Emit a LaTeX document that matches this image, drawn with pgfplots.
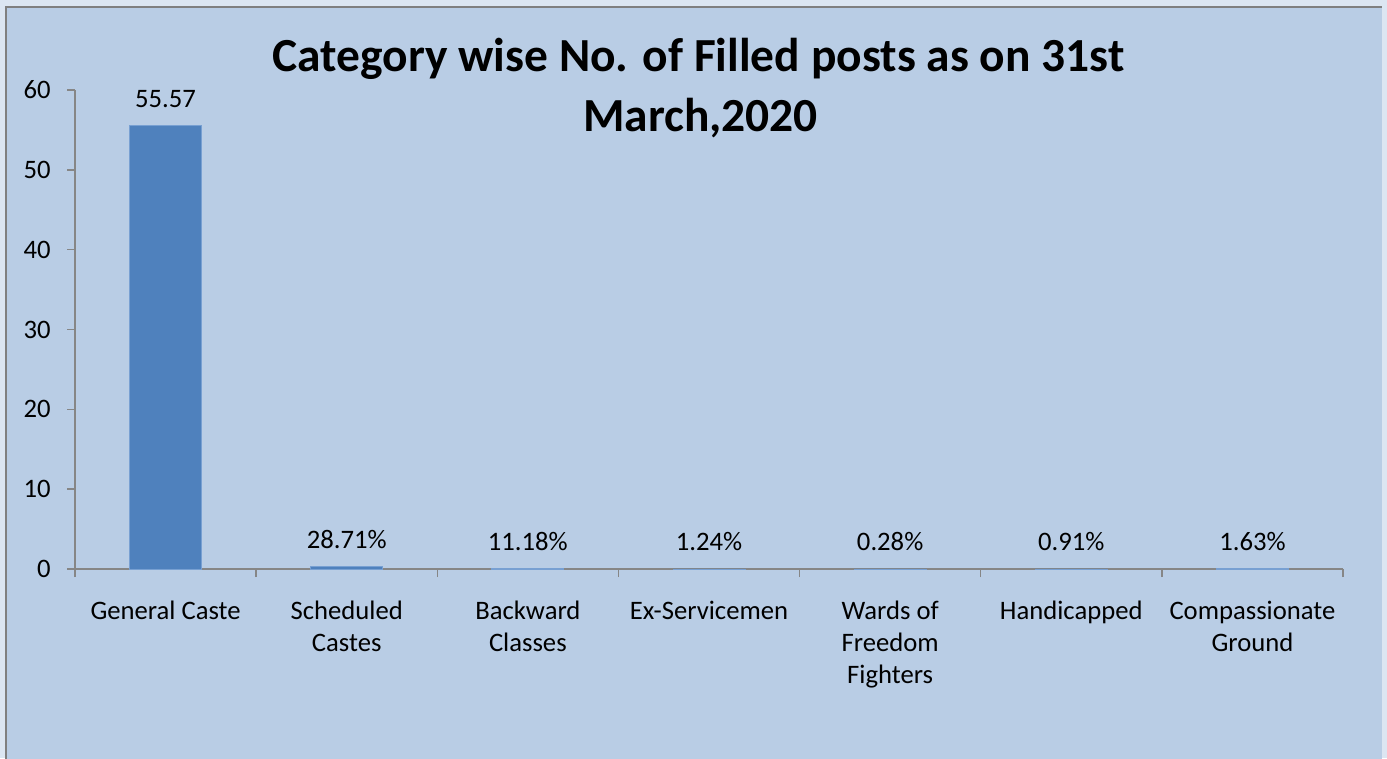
\documentclass[border=0pt]{standalone}
\usepackage{pgfplots}
\pgfplotsset{compat=1.18}
\usepackage{fontspec}
\setmainfont{Carlito}
\definecolor{outerbg}{RGB}{220,230,242}
\definecolor{innerbg}{RGB}{185,205,229}
\definecolor{bordergray}{RGB}{128,128,128}
\definecolor{axisgray}{RGB}{134,134,134}
\definecolor{barblue}{RGB}{79,129,189}
\definecolor{baredge}{RGB}{120,160,210}
\begin{document}
\begin{tikzpicture}[x=1pt,y=1pt]
\useasboundingbox (0,0) rectangle (1040.25,568.5);
\fill[outerbg] (0,0) rectangle (1040.25,568.5);
\fill[innerbg] (4.5,-5) rectangle (1036.5,563.25);
\draw[bordergray,line width=1.6pt] (4.5,-5) -- (4.5,563.25) -- (1036.3,563.25);
\begin{axis}[
  at={(56.25pt,141.75pt)}, anchor=south west,
  scale only axis, width=951pt, height=359.25pt,
  xmin=-0.5, xmax=6.5, ymin=0, ymax=60,
  axis x line*=bottom, axis y line*=left,
  axis line style={axisgray,line width=1.5pt},
  every outer x axis line/.append style={-},
  every outer y axis line/.append style={-},
  xtick={-0.5,0.5,...,6.5},
  xticklabels={},
  extra x ticks={0,1,2,3,4,5,6},
  extra x tick labels={General Caste,{Scheduled\\Castes},{Backward\\Classes},Ex-Servicemen,{Wards of\\Freedom\\Fighters},Handicapped,{Compassionate\\Ground}},
  extra x tick style={major tick length=0pt, tick style={draw=none}},
  ytick={0,10,...,60},
  tick align=outside, major tick length=6pt,
  tick style={axisgray,line width=1.1pt},
  xticklabel style={font=\fontsize{20}{24}\selectfont, align=center, anchor=north, inner sep=0pt, yshift=-24pt},
  yticklabel style={font=\fontsize{20}{24}\selectfont, anchor=east, inner sep=0pt, xshift=-12pt},
  /pgf/number format/assume math mode=true,
  ybar, bar width=54pt,
  nodes near coords,
  point meta=explicit symbolic,
  every node near coord/.append style={font=\fontsize{20}{24}\selectfont, black, anchor=base, inner sep=0pt, yshift=13.5pt},
  clip=false,
]
\addplot[fill=barblue, draw=baredge, line width=0.6pt] coordinates {
  (0,55.57) [55.57]
  (1,0.2871) [28.71\%]
  (2,0.1118) [11.18\%]
  (3,0.0124) [1.24\%]
  (4,0.0028) [0.28\%]
  (5,0.0091) [0.91\%]
  (6,0.0163) [1.63\%]
};
\end{axis}
\node[font=\bfseries\fontsize{35.6}{45}\selectfont, anchor=base, inner sep=0pt] at (523.9,514.5) {Category wise No. of Filled posts as on 31st};
\node[font=\bfseries\fontsize{35.6}{45}\selectfont, anchor=base, inner sep=0pt] at (525.4,469.5) {March,2020};
\end{tikzpicture}
\end{document}
